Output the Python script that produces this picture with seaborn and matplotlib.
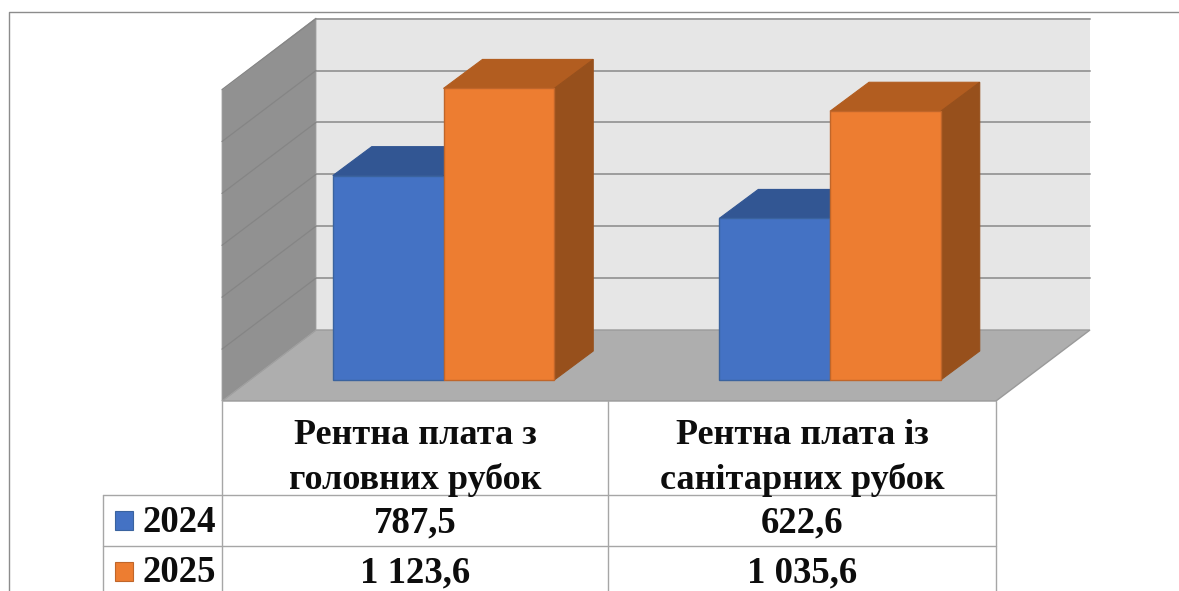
import matplotlib
matplotlib.use("Agg")
import matplotlib.pyplot as plt
from matplotlib.patches import Polygon, Rectangle
import pandas as pd
import seaborn as sns

categories = ["Рентна плата з\nголовних рубок", "Рентна плата із\nсанітарних рубок"]
years = ["2024", "2025"]
values_2024 = [787.5, 622.6]
values_2025 = [1123.6, 1035.6]
labels_2024 = ["787,5", "622,6"]
labels_2025 = ["1 123,6", "1 035,6"]
grid_values = [200, 400, 600, 800, 1000, 1200]

# colours: front, top, side
colors = {"2024": ("#4472C4", "#325693", "#2B4A80"), "2025": ("#ED7D31", "#B25D20", "#97501C")}
edges = {"2024": "#3A639F", "2025": "#C0662A"}

W, H = 1179, 591
PX_PER_UNIT = 0.2595    # vertical scale of the value axis
PX_PER_CAT = 386.5      # distance between the two groups
BAR_DX, BAR_DY = 39, 29  # depth of a bar in pixels

df = pd.DataFrame({
    "cat": categories * 2,
    "year": [years[0]] * 2 + [years[1]] * 2,
    "value": values_2024 + values_2025,
})

sns.set_theme(style="white")
plt.rcParams["font.family"] = ["Liberation Serif", "DejaVu Serif"]

fig = plt.figure(figsize=(W / 100, H / 100), dpi=100)

# ------------------------------
# Background axes in pixels: frame, walls, floor, table
# ------------------------------
bg = fig.add_axes([0, 0, 1, 1], zorder=0)
bg.set_xlim(0, W)
bg.set_ylim(H, 0)
bg.axis("off")

bg.plot([8.5, 8.5, W], [H, 11.5, 11.5], color="#8C8C8C", lw=1.0)

bg.add_patch(Polygon([(316, 18), (1090, 18), (1090, 330), (316, 330)], fc="#E6E6E6", ec="none"))
bg.add_patch(Polygon([(222, 401), (316, 330), (1090, 330), (996, 401)], fc="#AEAEAE", ec="#9A9A9A", lw=1.0))
bg.add_patch(Polygon([(222, 90), (316, 18), (316, 330), (222, 401)], fc="#919191", ec="#A3A3A3", lw=0.6))

for v in grid_values:
    y = 330 - v * PX_PER_UNIT
    bg.plot([316, 1090], [y, y], color="#9C9C9C", lw=1.4)
    bg.plot([222, 316], [y + 71, y], color="#858585", lw=0.9)

# table
line = dict(color="#A6A6A6", lw=1.0)
for x in (222, 608, 996):
    bg.plot([x, x], [401, H], **line)
bg.plot([103, 103], [495, H], **line)
for y in (495, 546):
    bg.plot([103, 996], [y, y], **line)

text_style = dict(ha="center", va="center", fontweight="bold", color="#0D0D0D")
centers = [415, 802]
for x, name in zip(centers, categories):
    first, second = name.split("\n")
    bg.text(x, 436, first, fontsize=26, **text_style)
    bg.text(x, 480, second, fontsize=26, **text_style)
for x, a, b in zip(centers, labels_2024, labels_2025):
    bg.text(x, 523, a, fontsize=26.5, **text_style)
    bg.text(x, 573, b, fontsize=26.5, **text_style)

for year, y_box, y_text in zip(years, (520, 571), (523, 572.5)):
    bg.add_patch(Rectangle((115, y_box - 9.5), 18, 19, fc=colors[year][0], ec=edges[year], lw=0.8))
    bg.text(179.5, y_text, year, fontsize=26.5, **text_style)

# ------------------------------
# Bars, the front faces come from seaborn
# ------------------------------
ax = fig.add_axes([0, 0, 1, 1], zorder=1)
ax.patch.set_alpha(0)
sns.barplot(
    data=df, x="cat", y="value", hue="year", hue_order=years,
    palette={y: colors[y][0] for y in years}, saturation=1,
    width=0.573, gap=0, legend=False, ax=ax, zorder=3,
)
ax.set_xlim(-443.5 / PX_PER_CAT, (W - 443.5) / PX_PER_CAT)
ax.set_ylim((380 - H) / PX_PER_UNIT, 380 / PX_PER_UNIT)
ax.axis("off")

# top and side faces are worked out from the bars themselves
dx = BAR_DX / PX_PER_CAT
dy = BAR_DY / PX_PER_UNIT
bars = list(ax.patches)
for i, bar in enumerate(bars):
    year = years[i // 2]
    front, top, side = colors[year]
    bar.set_edgecolor(edges[year])
    bar.set_linewidth(1.0)
    x0, x1 = bar.get_x(), bar.get_x() + bar.get_width()
    h = bar.get_height()
    ax.add_patch(Polygon([(x0, h), (x1, h), (x1 + dx, h + dy), (x0 + dx, h + dy)],
                         fc=top, ec=top, lw=0.8, zorder=2 + i // 2 * 2))
    ax.add_patch(Polygon([(x1, 0), (x1 + dx, dy), (x1 + dx, h + dy), (x1, h)],
                         fc=side, ec=side, lw=0.8, zorder=2 + i // 2 * 2))
    bar.set_zorder(3 + i // 2 * 2)

fig.savefig("out.png", dpi=100)
